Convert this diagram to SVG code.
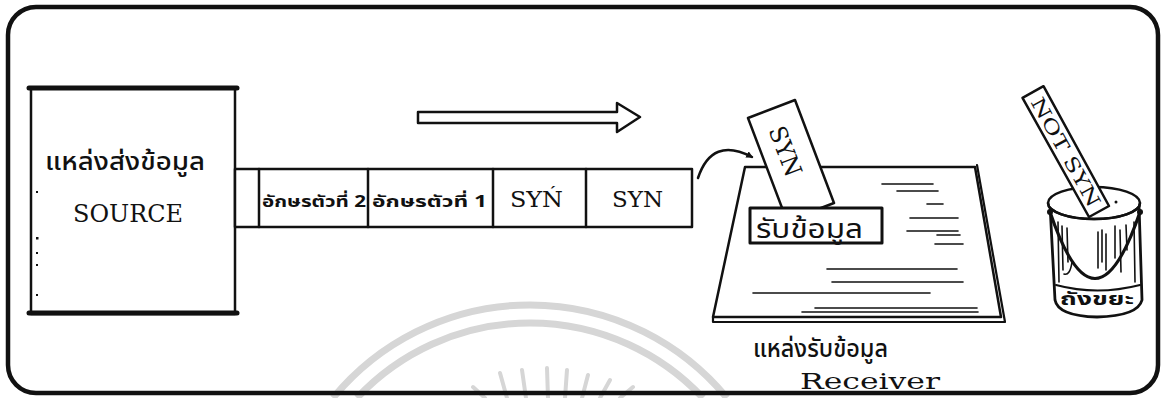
<svg xmlns="http://www.w3.org/2000/svg" width="1170" height="398" viewBox="0 0 1170 398">
  <defs>
    <style>
      .ink { stroke: #111; fill: none; stroke-linecap: round; stroke-linejoin: round; }
      .box { stroke: #111; fill: #fff; stroke-linejoin: round; }
      .thai { font-family: "Noto Sans Thai", "Noto Sans", "DejaVu Sans", sans-serif; fill: #111; }
      .type { font-family: "DejaVu Serif", "Liberation Serif", serif; fill: #111; }
      .wm { stroke: #d6d6d6; fill: none; }
      .tex { stroke: #111; stroke-width: 1.6; fill: none; stroke-linecap: round; }
    </style>
    <marker id="head" viewBox="0 0 10 10" refX="8" refY="5" markerWidth="7" markerHeight="7" markerUnits="userSpaceOnUse" orient="auto">
      <path d="M0 0 L10 5 L0 10 Z" fill="#111"/>
    </marker>
  </defs>

  <rect width="1170" height="398" fill="#fff"/>

  <!-- faint background emblem -->
  <g id="emblem">
    <path class="wm" stroke-width="7" d="M 333 398 A 255 255 0 0 1 727 398"/>
    <path class="wm" stroke-width="7" d="M 357 398 A 237 237 0 0 1 703 398"/>
    <g class="wm" stroke-width="4" stroke-linecap="round">
      <line x1="473" y1="387" x2="485" y2="398"/>
      <line x1="500" y1="373" x2="507" y2="398"/>
      <line x1="522" y1="370" x2="526" y2="398"/>
      <line x1="547" y1="368" x2="548" y2="398"/>
      <line x1="567" y1="370" x2="565" y2="398"/>
      <line x1="588" y1="375" x2="582" y2="398"/>
      <line x1="610" y1="380" x2="600" y2="398"/>
      <line x1="633" y1="387" x2="620" y2="398"/>
    </g>
  </g>

  <!-- outer frame -->
  <rect id="frame" x="8" y="7" width="1150" height="386" rx="28" ry="28" class="ink" stroke-width="4.5"/>

  <!-- transmitter -->
  <g id="source">
    <rect x="31" y="88" width="204" height="226" class="box" stroke-width="2.5"/>
    <line x1="29" y1="88" x2="237" y2="88" class="ink" stroke-width="5"/>
    <line x1="29" y1="313" x2="237" y2="313" class="ink" stroke-width="5"/>
    <g fill="#111">
      <rect x="36" y="191" width="2" height="2"/>
      <rect x="36" y="237" width="2.5" height="2.5"/>
      <rect x="36" y="252" width="2" height="2"/>
      <rect x="36" y="264" width="2" height="2"/>
      <rect x="36" y="294" width="2" height="2"/>
    </g>
    <text x="45" y="170" class="thai" font-size="25" font-weight="500" textLength="160" lengthAdjust="spacingAndGlyphs">แหล่งส่งข้อมูล</text>
    <text x="73" y="222" class="type" font-size="24" textLength="110" lengthAdjust="spacingAndGlyphs">SOURCE</text>
  </g>

  <!-- character stream -->
  <g id="stream">
    <rect x="235" y="169" width="457" height="58" class="box" stroke-width="2.5"/>
    <g class="ink" stroke-width="2.5">
      <line x1="259" y1="169" x2="259" y2="227"/>
      <line x1="368" y1="169" x2="368" y2="227"/>
      <line x1="493" y1="169" x2="493" y2="227"/>
      <line x1="586" y1="169" x2="586" y2="227"/>
    </g>
    <text x="262" y="207" class="thai" font-size="16" font-weight="bold" textLength="104" lengthAdjust="spacingAndGlyphs">อักษรตัวที่ 2</text>
    <text x="372" y="207" class="thai" font-size="16" font-weight="bold" textLength="115" lengthAdjust="spacingAndGlyphs">อักษรตัวที่ 1</text>
    <text x="510" y="207" class="type" font-size="23" textLength="53" lengthAdjust="spacingAndGlyphs">SYŃ</text>
    <text x="612" y="207" class="type" font-size="23" textLength="51" lengthAdjust="spacingAndGlyphs">SYN</text>
  </g>

  <!-- direction of travel -->
  <g id="flow-arrow">
    <polygon points="418,112 617,112 617,103 640,117 617,132 617,123 418,123" class="box" stroke-width="2.5"/>
  </g>

  <g id="connectors">
    <path d="M 698 178 Q 712 136 752 157" class="ink" stroke-width="2.5" marker-end="url(#head)"/>
  </g>

  <!-- receiving tray -->
  <g id="receiver">
    <path d="M 745 167 L 975 167 L 1001 317 L 713 317 Z" class="box" stroke-width="2.5"/>
    <path d="M 977 165 L 1005 322 L 713 322 L 713 317" class="ink" stroke-width="2.2"/>
    <g class="tex">
      <line x1="882" y1="184" x2="933" y2="184"/>
      <line x1="897" y1="191" x2="938" y2="191"/>
      <line x1="927" y1="204" x2="943" y2="204"/>
      <line x1="910" y1="218" x2="958" y2="218"/>
      <line x1="907" y1="231" x2="958" y2="231"/>
      <line x1="937" y1="235" x2="960" y2="235"/>
      <line x1="935" y1="244" x2="963" y2="244"/>
      <line x1="827" y1="269" x2="957" y2="269"/>
      <line x1="832" y1="282" x2="963" y2="282"/>
      <line x1="753" y1="293" x2="930" y2="293"/>
      <line x1="815" y1="308" x2="977" y2="308"/>
      <line x1="802" y1="312" x2="978" y2="312"/>
    </g>
    <!-- slip entering the tray -->
    <polygon points="748,118 795,100 834,203 787,221" class="box" stroke-width="2.5"/>
    <text class="type" font-size="24" textLength="52" lengthAdjust="spacingAndGlyphs" transform="translate(786 151) rotate(69)" x="-26" y="9">SYN</text>
    <rect x="750" y="208" width="132" height="35" class="box" stroke-width="3"/>
    <text x="756" y="238" class="thai" font-size="26" textLength="107" lengthAdjust="spacingAndGlyphs">รับข้อมูล</text>
    <text x="753" y="357" class="thai" font-size="24" font-weight="500" textLength="135" lengthAdjust="spacingAndGlyphs">แหล่งรับข้อมูล</text>
    <text x="800" y="389" class="type" font-size="22" textLength="140" lengthAdjust="spacingAndGlyphs">Receiver</text>
  </g>

  <!-- waste bin for rejected characters -->
  <g id="bin">
    <path d="M 1050 205 L 1055 300 Q 1058 316 1097 317 Q 1138 316 1142 300 L 1139 205 Z" class="box" stroke-width="2.8"/>
    <ellipse cx="1094" cy="203" rx="46" ry="16" class="box" stroke-width="2.5"/>
    <polygon points="1022.5,97.8 1043.5,86.2 1109,206 1089,217" class="box" stroke-width="2.5"/>
    <text class="type" font-size="19" textLength="122" lengthAdjust="spacingAndGlyphs" transform="translate(1066 152) rotate(61)" x="-61" y="7">NOT SYN</text>
    <path d="M 1048 203 A 46 16 0 0 0 1140 203" class="ink" stroke-width="2.5"/>
    <path d="M 1056 285 Q 1097 296 1140 285" class="ink" stroke-width="2"/>
    <g class="tex" stroke-width="1.4">
      <line x1="1058" y1="222" x2="1059" y2="282"/>
      <line x1="1062" y1="226" x2="1063" y2="270"/>
      <line x1="1067" y1="228" x2="1068" y2="262"/>
      <line x1="1098" y1="232" x2="1098" y2="268"/>
      <line x1="1102" y1="230" x2="1102" y2="262"/>
      <line x1="1106" y1="234" x2="1106" y2="270"/>
      <line x1="1115" y1="226" x2="1115" y2="258"/>
      <line x1="1120" y1="230" x2="1121" y2="272"/>
      <line x1="1126" y1="225" x2="1127" y2="250"/>
      <line x1="1134" y1="222" x2="1135" y2="282"/>
      <path d="M 1072 262 Q 1070 276 1064 274"/>
    </g>
    <path d="M 1050 212 Q 1095 345 1140 212" class="ink" stroke-width="3.2"/>
    <circle cx="1050" cy="212" r="3" fill="#111"/>
    <circle cx="1140" cy="212" r="3" fill="#111"/>
    <circle cx="1116" cy="202" r="1.5" fill="#111"/>
    <text x="1060" y="305" class="thai" font-size="18" font-weight="bold" textLength="74" lengthAdjust="spacingAndGlyphs">ถังขยะ</text>
  </g>
</svg>
